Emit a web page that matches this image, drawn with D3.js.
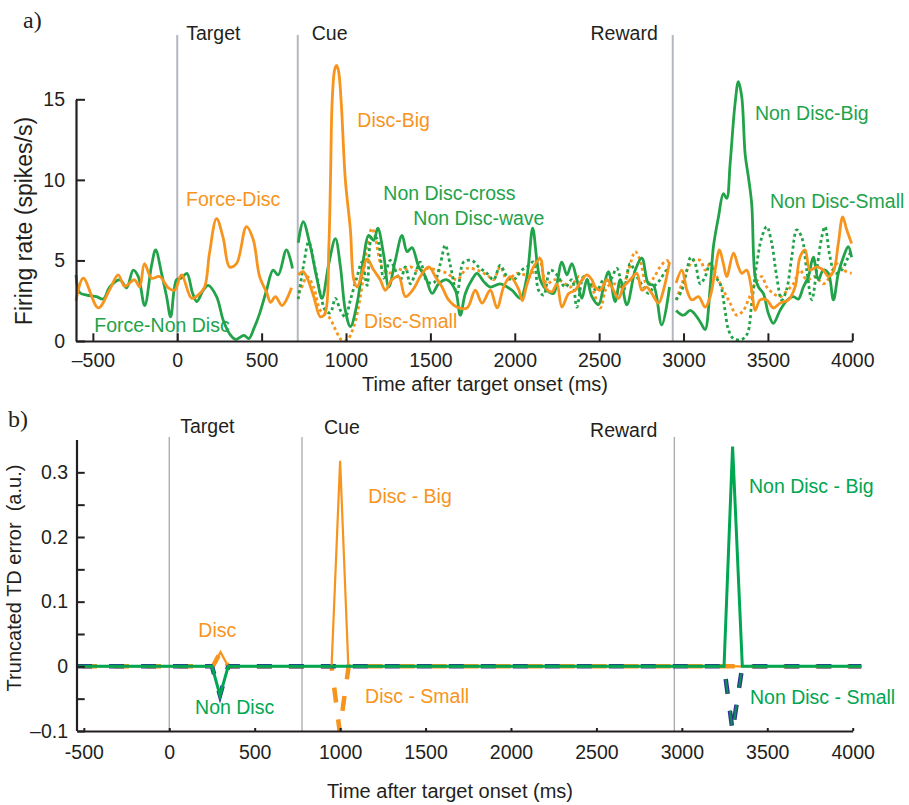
<!DOCTYPE html>
<html>
<head>
  <meta charset="utf-8">
  <script src="https://cdn.jsdelivr.net/npm/d3@7"></script>
  <style>
    body { margin: 0; background: #fff; }
    svg text { font-family: "Liberation Sans", Arial, sans-serif; }
  </style>
</head>
<body>
<div id="chart"></div>
<script>
  // ---- panel a: firing rate traces, [time ms, spikes/s] ----
  var forceDisc = [[-600,2.5],[-557,3.9],[-468,2.05],[-400,3.2],[-350,4.1],[-312,3.4],[-253,3.8],[-223,3.35],[-194,4.8],[-152,3.9],[-105,4.0],[-53,3.3],[-16,3.15],[25,4.1],[85,2.65],[124,2.85],[162,3.35],[191,5.45],[233,7.6],[272,6.4],[310,4.6],[351,4.8],[410,7.1],[450,6.3],[488,4.0],[530,3.0],[553,2.4],[582,2.75],[621,2.2],[677,3.3]];
  var forceNonDisc = [[-600,4.1],[-578,3.0],[-537,2.85],[-478,2.75],[-438,2.6],[-400,3.35],[-340,3.8],[-300,3.3],[-261,4.4],[-231,4.0],[-193,2.2],[-152,4.7],[-128,5.65],[-93,4.2],[-63,2.75],[-39,1.5],[-4,3.8],[25,3.9],[57,4.2],[90,3.0],[116,2.45],[154,3.15],[183,3.45],[233,2.75],[272,1.3],[310,0.45],[346,0.1],[395,0.35],[424,0.15],[455,0.8],[488,1.7],[529,3.15],[568,4.4],[598,4.1],[647,5.65],[683,4.5]];
  var discBigCue = [[717,4.1],[745,4.3],[770,3.9],[809,2.75],[848,1.5],[875,1.7],[898,5.8],[908,10],[918,14.9],[932,16.8],[943,17.1],[955,16.8],[971,14.9],[996,10],[1026,6.9],[1046,3.8],[1066,3.35],[1095,4.2],[1125,5.1],[1164,4.4],[1203,3.8],[1233,3.15],[1272,3.8],[1312,4.0],[1352,2.75],[1401,3.25],[1440,4.0],[1490,4.6],[1529,4.0],[1569,3.35],[1608,2.55],[1658,2.1],[1717,2.05],[1766,3.15],[1806,2.35],[1855,3.15],[1895,2.05],[1934,3.35],[1973,4.0],[2023,3.2],[2045,2.5],[2072,3.5],[2111,4.6],[2151,5.1],[2181,3.35],[2220,3.05],[2250,3.55],[2279,2.1],[2319,2.95],[2358,3.15],[2398,3.8],[2427,4.1],[2457,3.8],[2476,3.35],[2506,3.15],[2546,3.8],[2585,3.15],[2615,2.65],[2644,3.35],[2684,3.8],[2723,4.2],[2753,3.15],[2782,3.35],[2812,2.95],[2852,2.35],[2881,3.15],[2917,4.9]];
  var discSmallCue = [[717,3.0],[730,3.15],[770,4.0],[809,3.3],[848,1.9],[898,1.5],[947,0.5],[975,0.05],[1006,0.05],[1046,0.9],[1085,2.75],[1125,5.85],[1154,7.0],[1174,6.4],[1213,4.6],[1253,4.2],[1292,4.5],[1342,4.4],[1381,4.6],[1431,4.3],[1480,4.5],[1539,4.4],[1598,4.2],[1658,3.8],[1717,4.5],[1776,4.4],[1835,4.1],[1874,3.8],[1914,4.6],[1954,3.8],[2013,4.2],[2062,4.1],[2092,4.0],[2141,5.2],[2190,3.55],[2230,3.8],[2279,3.7],[2329,3.35],[2378,4.0],[2408,3.8],[2447,3.55],[2506,2.05],[2546,3.35],[2595,3.55],[2634,3.35],[2674,4.4],[2714,5.55],[2743,5.0],[2782,3.55],[2822,3.9],[2861,4.6],[2901,5.0],[2917,4.8]];
  var nonDiscCross = [[717,6.1],[746,7.4],[789,5.85],[829,3.8],[858,2.65],[898,4.8],[937,6.35],[967,4.6],[996,1.9],[1026,0.9],[1066,2.35],[1105,5.2],[1134,6.55],[1164,6.25],[1188,7.0],[1223,5.35],[1253,3.35],[1292,5.0],[1332,6.55],[1362,5.55],[1391,5.8],[1431,4.6],[1470,4.0],[1510,2.95],[1549,3.55],[1598,3.8],[1648,3.15],[1677,1.6],[1707,2.95],[1746,3.8],[1776,4.2],[1815,3.7],[1855,3.35],[1914,3.55],[1983,3.15],[2033,2.65],[2072,4.0],[2106,7.0],[2131,5.0],[2151,3.8],[2190,3.15],[2230,2.95],[2279,4.9],[2309,4.1],[2338,4.8],[2368,3.8],[2398,2.65],[2427,3.8],[2457,2.75],[2496,2.25],[2526,3.35],[2555,4.3],[2595,2.45],[2625,3.8],[2664,2.25],[2714,4.4],[2753,5.15],[2792,3.55],[2822,3.45],[2871,1.0],[2917,3.35]];
  var nonDiscWave = [[717,2.6],[750,4.8],[779,6.15],[819,4.4],[848,2.95],[878,1.9],[907,1.75],[937,2.65],[967,1.9],[996,1.5],[1026,2.55],[1066,4.0],[1095,4.9],[1125,3.45],[1154,6.45],[1184,6.35],[1223,3.9],[1262,5.0],[1292,4.4],[1322,3.8],[1352,4.6],[1381,3.55],[1411,4.2],[1440,4.9],[1480,3.7],[1519,3.6],[1559,4.8],[1588,5.95],[1618,4.7],[1658,2.95],[1697,4.9],[1746,5.0],[1786,4.6],[1835,4.2],[1874,3.8],[1914,4.7],[1954,4.0],[1993,3.8],[2042,4.4],[2072,4.6],[2111,4.9],[2141,3.15],[2171,2.85],[2210,4.4],[2250,4.1],[2299,3.35],[2338,3.8],[2368,2.1],[2408,4.0],[2447,3.55],[2486,3.15],[2526,3.8],[2565,3.8],[2605,4.5],[2644,3.15],[2684,4.8],[2723,4.0],[2763,3.35],[2792,2.95],[2822,3.35],[2861,3.8],[2901,4.4],[2917,4.3]];
  var nonDiscBigRew = [[2956,1.9],[3000,1.6],[3040,1.9],[3079,1.5],[3109,1.0],[3128,0.7],[3158,3.35],[3177,5.85],[3207,7.7],[3236,9.15],[3256,8.85],[3276,11.0],[3305,14.7],[3325,16.1],[3345,15.15],[3365,11.6],[3384,10.2],[3404,8.5],[3424,4.0],[3444,3.35],[3473,2.95],[3503,1.7],[3532,1.1],[3572,1.9],[3611,2.5],[3651,2.75],[3680,2.6],[3710,3.35],[3740,4.0],[3769,5.2],[3799,3.8],[3828,4.4],[3858,4.2],[3888,2.55],[3917,4.2],[3947,5.2],[3976,5.85],[3996,5.2]];
  var discBigRew = [[2956,3.6],[2990,4.4],[3020,3.15],[3049,2.55],[3089,2.75],[3128,2.1],[3158,2.75],[3187,4.4],[3213,5.65],[3236,4.8],[3256,4.0],[3296,5.45],[3325,4.6],[3345,4.2],[3374,4.4],[3404,3.15],[3424,1.9],[3454,2.55],[3493,2.55],[3532,2.05],[3572,2.35],[3621,2.55],[3661,3.35],[3690,5.2],[3720,5.65],[3750,4.4],[3789,4.6],[3828,4.4],[3858,4.0],[3888,4.3],[3917,6.05],[3943,7.7],[3967,6.9],[3996,6.05]];
  var nonDiscSmallRew = [[2956,2.55],[2990,3.15],[3020,4.4],[3043,5.2],[3069,4.8],[3099,3.55],[3128,4.0],[3158,4.8],[3187,4.0],[3217,3.55],[3246,1.9],[3266,0.7],[3296,0.15],[3345,0.1],[3378,0.45],[3404,2.35],[3434,4.8],[3464,6.45],[3493,7.1],[3523,6.05],[3552,4.0],[3582,2.55],[3611,3.2],[3641,5.2],[3671,6.9],[3700,6.45],[3730,4.4],[3760,2.55],[3789,4.4],[3819,6.45],[3838,7.1],[3868,5.2],[3898,4.2],[3937,4.4],[3967,5.0],[3996,5.65]];
  var discSmallRew = [[2956,2.55],[2990,3.55],[3020,4.4],[3059,5.0],[3099,5.0],[3128,4.4],[3158,4.8],[3197,4.0],[3236,3.15],[3276,2.35],[3315,1.6],[3355,1.9],[3384,2.55],[3424,3.55],[3464,4.0],[3493,3.35],[3532,2.95],[3572,2.75],[3611,3.1],[3651,3.55],[3690,4.4],[3730,3.8],[3779,4.0],[3828,3.55],[3868,4.0],[3908,4.8],[3947,4.4],[3996,4.2]];

  // ---- panel b: truncated TD error, [time ms, a.u.] ----
  var tdDiscBig = [[-540,0],[255,0],[300,0.022],[345,0],[950,0],[1000,0.318],[1048,0],[4050,0]];
  var tdDiscSmall = [[-540,0],[255,0],[300,0.022],[345,0],[950,0],[997,-0.1],[1050,0],[4050,0]];
  var tdNonDiscBig = [[-540,0],[250,0],[297,-0.045],[345,0],[3247,0],[3297,0.34],[3354,0],[4050,0]];
  var tdNonDiscSmall = [[-540,0],[250,0],[297,-0.045],[345,0],[3247,0],[3297,-0.1],[3354,0],[4050,0]];

  // events and tick values
  var eventsA = [["Target",0],["Cue",714],["Reward",2936]];
  var eventsB = [["Target",0],["Cue",777],["Reward",2956]];
  var xTicks = [-500,0,500,1000,1500,2000,2500,3000,3500,4000];
  var yTicksA = [0,5,10,15];
  var yTicksB = [-0.1,-0.05,0,0.05,0.1,0.15,0.2,0.25,0.3];
  var yLabelsB = [-0.1,0,0.1,0.2,0.3];

  // trace labels [text, time, value]
  var labelsA = [["Disc-Big",1067,13.3],["Force-Disc",52,8.4],["Force-Non Disc",-492,0.58],["Non Disc-cross",1221,8.75],["Non Disc-wave",1399,7.2],["Disc-Small",1107,0.79],["Non Disc-Big",3423,13.7],["Non Disc-Small",3512,8.24]];
  var labelsB = [["Disc - Big",1165,0.252],["Disc",170,0.045],["Non Disc",151,-0.074],["Disc - Small",1146,-0.057],["Non Disc - Big",3393,0.268],["Non Disc - Small",3399,-0.058]];

  var ORANGE = "#f7941d", GREEN_A = "#22a34a", GREEN = "#00a651", NAVY = "#2e3192", INK = "#231f20";

  var svg = d3.select("#chart").append("svg")
      .attr("width", 909).attr("height", 805);
  svg.append("rect").attr("width", 909).attr("height", 805).attr("fill", "#fff");

  // ================= panel a =================
  var xa = d3.scaleLinear().domain([-600, 4000]).range([76, 852.3]);
  var ya = d3.scaleLinear().domain([0, 15]).range([341, 99.3]);
  var lineA = d3.line().x(function(d){return xa(d[0]);}).y(function(d){return ya(d[1]);})
      .curve(d3.curveCatmullRom.alpha(0.5));

  var ga = svg.append("g");

  // event lines
  eventsA.forEach(function(e){
    ga.append("line").attr("x1", xa(e[1])).attr("x2", xa(e[1]))
      .attr("y1", 35).attr("y2", ya(0))
      .attr("stroke", "#b3b8c0").attr("stroke-width", 2);
  });
  ga.append("text").attr("x", xa(0) + 9).attr("y", 40).attr("font-size", 19.5).attr("fill", INK).text("Target");
  ga.append("text").attr("x", xa(714) + 14).attr("y", 40).attr("font-size", 19.5).attr("fill", INK).text("Cue");
  ga.append("text").attr("x", xa(2936) - 15).attr("y", 40).attr("font-size", 19.5).attr("fill", INK)
    .attr("text-anchor", "end").text("Reward");

  var seriesA = [
    {d: discSmallCue, c: ORANGE, dash: "3,3"},
    {d: nonDiscWave, c: GREEN_A, dash: "3,3"},
    {d: discSmallRew, c: ORANGE, dash: "3,3"},
    {d: nonDiscSmallRew, c: GREEN_A, dash: "3,3"},
    {d: forceNonDisc, c: GREEN_A},
    {d: forceDisc, c: ORANGE},
    {d: nonDiscCross, c: GREEN_A},
    {d: discBigCue, c: ORANGE},
    {d: nonDiscBigRew, c: GREEN_A},
    {d: discBigRew, c: ORANGE}
  ];
  seriesA.forEach(function(s){
    ga.append("path").datum(s.d).attr("d", lineA)
      .attr("fill", "none").attr("stroke", s.c).attr("stroke-width", 2.8)
      .attr("stroke-dasharray", s.dash || null);
  });

  // axes
  var axA = ga.append("g").attr("transform", "translate(0," + ya(0) + ")")
      .call(d3.axisBottom(xa).tickValues(xTicks).tickSize(-7.7).tickSizeOuter(0).tickPadding(12.5)
        .tickFormat(function(d){ return d < 0 ? "\u2013" + Math.abs(d) : d; }));
  var ayA = ga.append("g").attr("transform", "translate(" + xa(-600) + ",0)")
      .call(d3.axisLeft(ya).tickValues(yTicksA).tickSize(-9).tickSizeOuter(0).tickPadding(11));
  [axA, ayA].forEach(function(a){
    a.select(".domain").attr("stroke", INK).attr("stroke-width", 2.2);
    a.selectAll(".tick line").attr("stroke", INK).attr("stroke-width", 2);
    a.selectAll(".tick text").attr("font-size", 19.5).attr("fill", INK)
      .attr("font-family", "Liberation Sans, Arial, sans-serif");
  });

  ga.append("text").attr("x", 485).attr("y", 391).attr("text-anchor", "middle")
    .attr("font-size", 20).attr("fill", INK).text("Time after target onset (ms)");
  ga.append("text").attr("transform", "translate(32,221) rotate(-90)").attr("text-anchor", "middle")
    .attr("font-size", 23).attr("fill", INK).text("Firing rate (spikes/s)");
  ga.append("text").attr("x", 23).attr("y", 28).attr("font-size", 24)
    .style("font-family", "Liberation Serif, Times New Roman, serif").attr("fill", INK).text("a)");

  labelsA.forEach(function(l){
    var green = l[0].indexOf("Non") >= 0;
    ga.append("text").attr("x", xa(l[1])).attr("y", ya(l[2])).attr("font-size", 19.5)
      .attr("fill", green ? GREEN_A : ORANGE).text(l[0]);
  });

  // ================= panel b =================
  var xb = d3.scaleLinear().domain([-540, 4000]).range([77, 852.7]);
  var yb = d3.scaleLinear().domain([-0.1, 0.35]).range([731, 440]);
  var lineB = d3.line().x(function(d){return xb(d[0]);}).y(function(d){return yb(d[1]);});

  var gb = svg.append("g");

  eventsB.forEach(function(e){
    gb.append("line").attr("x1", xb(e[1])).attr("x2", xb(e[1]))
      .attr("y1", 437).attr("y2", yb(-0.1))
      .attr("stroke", "#a8a8a8").attr("stroke-width", 1.3);
  });
  gb.append("text").attr("x", xb(0) + 11).attr("y", 433).attr("font-size", 19.5).attr("fill", INK).text("Target");
  gb.append("text").attr("x", xb(777) + 22).attr("y", 434).attr("font-size", 19.5).attr("fill", INK).text("Cue");
  gb.append("text").attr("x", xb(2956) - 17).attr("y", 437).attr("font-size", 19.5).attr("fill", INK)
    .attr("text-anchor", "end").text("Reward");

  gb.append("path").datum(tdDiscSmall).attr("d", lineB).attr("fill", "none")
    .attr("stroke", ORANGE).attr("stroke-width", 4.5).attr("stroke-dasharray", "15,17").attr("stroke-dashoffset", -5);
  gb.append("path").datum(tdNonDiscSmall).attr("d", lineB).attr("fill", "none")
    .attr("stroke", NAVY).attr("stroke-width", 4.5).attr("stroke-dasharray", "15,17");
  gb.append("path").datum(tdNonDiscSmall).attr("d", lineB).attr("fill", "none")
    .attr("stroke", "#0f8a5a").attr("stroke-width", 2.2).attr("stroke-dasharray", "15,17");
  gb.append("path").datum(tdDiscBig).attr("d", lineB).attr("fill", "none")
    .attr("stroke", ORANGE).attr("stroke-width", 2.2);
  gb.append("path").datum(tdNonDiscBig).attr("d", lineB).attr("fill", "none")
    .attr("stroke", GREEN).attr("stroke-width", 3);

  var axB = gb.append("g").attr("transform", "translate(0," + yb(-0.1) + ")")
      .call(d3.axisBottom(xb).tickValues(xTicks).tickSize(-3).tickSizeOuter(0).tickPadding(14)
        .tickFormat(function(d){ return d < 0 ? "-" + Math.abs(d) : d; }));
  var ayB = gb.append("g").attr("transform", "translate(" + xb(-540) + ",0)")
      .call(d3.axisLeft(yb).tickValues(yTicksB).tickSize(-7.7).tickSizeOuter(0).tickPadding(9)
        .tickFormat(function(d){
          var hit = yLabelsB.some(function(v){ return Math.abs(v - d) < 1e-9; });
          if (!hit) return "";
          return d < 0 ? "\u2013" + Math.abs(d) : d;
        }));
  ayB.select(".domain").attr("d", "M0," + yb(0.35) + "V" + yb(-0.1));
  [axB, ayB].forEach(function(a){
    a.select(".domain").attr("stroke", INK).attr("stroke-width", 2.2);
    a.selectAll(".tick line").attr("stroke", INK).attr("stroke-width", 2);
    a.selectAll(".tick text").attr("font-size", 19.5).attr("fill", INK)
      .attr("font-family", "Liberation Sans, Arial, sans-serif");
  });

  gb.append("text").attr("x", 450).attr("y", 798).attr("text-anchor", "middle")
    .attr("font-size", 20).attr("fill", INK).text("Time after target onset (ms)");
  gb.append("text").attr("transform", "translate(21,578) rotate(-90)").attr("text-anchor", "middle")
    .attr("font-size", 20).attr("fill", INK).attr("xml:space", "preserve").text("Truncated TD error  (a.u.)");
  gb.append("text").attr("x", 8).attr("y", 427).attr("font-size", 24)
    .style("font-family", "Liberation Serif, Times New Roman, serif").attr("fill", INK).text("b)");

  labelsB.forEach(function(l){
    var green = l[0].indexOf("Non") >= 0;
    gb.append("text").attr("x", xb(l[1])).attr("y", yb(l[2])).attr("font-size", 19.5)
      .attr("fill", green ? GREEN : ORANGE).text(l[0]);
  });
</script>
</body>
</html>
